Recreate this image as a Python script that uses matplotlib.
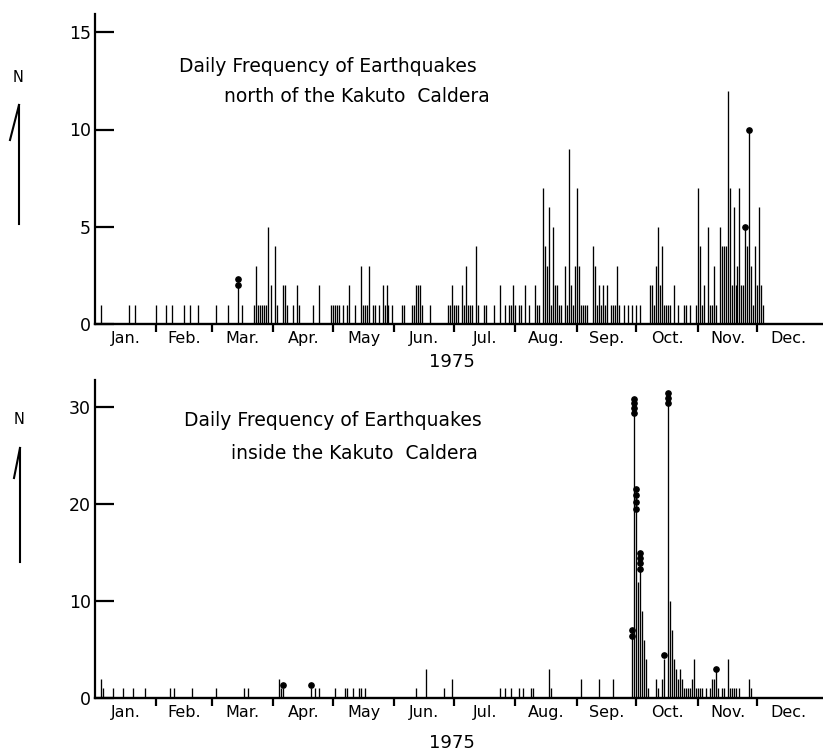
import numpy as np
import matplotlib.pyplot as plt
from matplotlib.lines import Line2D

# ==================================
# DATA  (day 0 = Jan 1, 1975)
# ==================================
MONTHS = ["Jan.", "Feb.", "Mar.", "Apr.", "May", "Jun.",
          "Jul.", "Aug.", "Sep.", "Oct.", "Nov.", "Dec."]
MONTH_DAYS = [31, 28, 31, 30, 31, 30, 31, 31, 30, 31, 30, 31]

north_days = [3, 17, 20, 31, 36, 39, 45, 48, 52, 61, 67, 72, 74, 80, 81, 82, 83, 84, 85, 86, 87, 89,
              91, 92, 95, 96, 97, 100, 102, 103, 110, 113, 119,
              120, 121, 122, 123, 125, 127, 128, 131, 134, 135, 136, 137, 138, 140, 141, 143, 145, 146,
              147, 148, 150,
              155, 156, 160, 161, 162, 163, 164, 165, 169, 178, 179, 180,
              181, 182, 183, 185, 186, 187, 188, 189, 190, 192, 193, 196, 197, 201, 204, 207, 209, 210, 211,
              212, 214, 215, 217, 219, 222, 223, 224, 226, 227, 228, 229, 230, 231, 232, 233, 234, 235,
              237, 238, 239, 240, 241, 242,
              243, 244, 245, 246, 247, 248, 251, 252, 253, 254, 255, 256, 257, 258, 260, 261, 262, 263,
              264, 267, 269, 271,
              273, 275, 280, 281, 282, 283, 284, 285, 286, 287, 288, 289, 290, 292, 294, 297, 298, 300, 303,
              304, 305, 306, 307, 309, 310, 311, 312, 313, 315, 316, 317, 318, 319, 320, 321, 322, 323,
              324, 325, 326, 327, 328, 329, 330, 331, 332, 333, 334, 335, 336, 337]
north_counts = [1, 1, 1, 1, 1, 1, 1, 1, 1, 1, 1, 2, 1, 1, 3, 1, 1, 1, 1, 1, 5, 2,
                4, 1, 2, 2, 1, 1, 2, 1, 1, 2, 1,
                1, 1, 1, 1, 1, 1, 2, 1, 3, 1, 1, 1, 3, 1, 1, 1, 2, 1,
                2, 1, 1,
                1, 1, 1, 1, 2, 2, 2, 1, 1, 1, 1, 2,
                1, 1, 1, 2, 1, 3, 1, 1, 1, 4, 1, 1, 1, 1, 2, 1, 1, 1, 2,
                1, 1, 1, 2, 1, 2, 1, 1, 7, 4, 3, 6, 1, 5, 2, 2, 1, 1,
                3, 1, 9, 2, 1, 3,
                7, 3, 1, 1, 1, 1, 4, 3, 1, 2, 1, 2, 1, 2, 1, 1, 1, 3,
                1, 1, 1, 1,
                1, 1, 2, 2, 1, 3, 5, 2, 4, 1, 1, 1, 1, 2, 1, 1, 1, 1, 1,
                7, 4, 1, 2, 5, 1, 1, 3, 1, 5, 4, 4, 4, 12, 7, 2, 6, 2,
                3, 7, 2, 2, 5, 4, 10, 3, 1, 4, 2, 6, 2, 1]
north_dot_days = [72, 72, 328, 330]
north_dot_vals = [2.0, 2.3, 5.0, 10.0]

inside_days = [3, 4, 9, 14, 19, 25, 38, 40, 49, 61, 75, 77, 93, 94, 95, 109, 111, 113,
               121, 126, 127, 130, 133, 134, 136, 162, 167, 176, 180,
               204, 207, 210, 214, 216, 220, 221, 229, 230, 245, 254, 261,
               271, 272, 273, 274, 275, 276, 277, 278, 279, 283, 284, 286, 287,
               289, 290, 291, 292, 293, 294, 295, 296, 297, 298, 299, 300, 301, 302, 303,
               304, 305, 306, 308, 310, 311, 312, 313, 314, 316, 317, 319, 320, 321, 322, 323,
               325, 330, 331]
inside_counts = [2, 1, 1, 1, 1, 1, 1, 1, 1, 1, 1, 1, 2, 1, 1, 1, 1, 1,
                 1, 1, 1, 1, 1, 1, 1, 1, 3, 1, 2,
                 1, 1, 1, 1, 1, 1, 1, 3, 1, 2, 2, 2,
                 7, 30, 21, 12, 15, 9, 6, 4, 1, 2, 1, 2, 4,
                 31, 10, 7, 4, 3, 2, 3, 2, 1, 1, 1, 1, 2, 4, 1,
                 1, 1, 1, 1, 1, 2, 2, 3, 1, 1, 1, 4, 1, 1, 1, 1,
                 1, 2, 1]
inside_dot_days = [95, 109, 271, 271, 272, 272, 272, 272, 273, 273, 273, 273,
                   275, 275, 275, 275, 287, 289, 289, 289, 313]
inside_dot_vals = [1.3, 1.3, 6.4, 7.0, 29.4, 29.9, 30.4, 30.8, 19.5, 20.2, 20.9, 21.5,
                   13.3, 13.9, 14.4, 15.0, 4.4, 30.4, 30.9, 31.4, 3.0]

# ==================================
# LAYOUT (pixels)
# ==================================
W, H = 823, 751
PX_PER_DAY = 1.983
FONT = "DejaVu Sans"


def fx(px):
    return px / W


def fy(py):
    return 1 - py / H


fig = plt.figure(figsize=(W / 100, H / 100), dpi=100)
fig.patch.set_facecolor("white")

month_edges = np.cumsum(MONTH_DAYS)[:-1]
month_mids = np.cumsum(MONTH_DAYS) - np.array(MONTH_DAYS) / 2.0
xmax = (W - 95) / PX_PER_DAY


def panel(top_px, base_px, px_per_unit, days, counts, dot_days, dot_vals, yticks):
    ax = fig.add_axes([fx(95), fy(base_px), (W - 95) / W, (base_px - top_px) / H])
    ax.vlines(days, 0, counts, color="black", linewidth=0.95, capstyle="butt")
    ax.plot(dot_days, dot_vals, "o", color="black", markersize=3.8, linestyle="none")
    ax.set_xlim(0, xmax)
    ax.set_ylim(0, (base_px - top_px) / px_per_unit)

    for s in ["top", "right"]:
        ax.spines[s].set_visible(False)
    ax.spines["left"].set_linewidth(1.6)
    ax.spines["bottom"].set_linewidth(1.7)

    ax.set_yticks(yticks)
    ax.set_yticklabels([str(v) for v in yticks], fontsize=12.5, family=FONT)
    ax.tick_params(axis="y", direction="in", length=14, width=1.6, pad=3)

    ax.set_xticks(month_mids)
    ax.set_xticklabels(MONTHS, fontsize=11.5, family=FONT)
    ax.set_xticks(month_edges, minor=True)
    ax.tick_params(axis="x", which="major", length=0, pad=5)
    ax.tick_params(axis="x", which="minor", direction="out", length=6, width=1.6)
    return ax


ax1 = panel(14, 324, 19.45, north_days, north_counts, north_dot_days, north_dot_vals, [0, 5, 10, 15])
ax2 = panel(380, 698, 9.7, inside_days, inside_counts, inside_dot_days, inside_dot_vals, [0, 10, 20, 30])

# titles
fig.text(fx(328), fy(66), "Daily Frequency of Earthquakes", fontsize=13.5, family=FONT,
         ha="center", va="center")
fig.text(fx(357), fy(97), "north of the Kakuto  Caldera", fontsize=13.5, family=FONT,
         ha="center", va="center")
fig.text(fx(333), fy(421), "Daily Frequency of Earthquakes", fontsize=13.5, family=FONT,
         ha="center", va="center")
fig.text(fx(354), fy(453), "inside the Kakuto  Caldera", fontsize=13.5, family=FONT,
         ha="center", va="center")

# year labels
fig.text(fx(452), fy(362), "1975", fontsize=13, family=FONT, ha="center", va="center")
fig.text(fx(452), fy(743), "1975", fontsize=13, family=FONT, ha="center", va="center")

# "N" with half-headed arrows
for n_y, y0, y1, bx, by in [(77, 224, 105, 10, 140), (420, 562, 448, 14, 478)]:
    xs = 19 if n_y < 300 else 20
    fig.text(fx(xs - 1), fy(n_y), "N", fontsize=10.5, family=FONT, ha="center", va="center")
    fig.add_artist(Line2D([fx(xs), fx(xs)], [fy(y0), fy(y1)], color="black", linewidth=1.5,
                          transform=fig.transFigure))
    fig.add_artist(Line2D([fx(xs), fx(bx)], [fy(y1), fy(by)], color="black", linewidth=1.5,
                          transform=fig.transFigure))

fig.savefig("out.png", dpi=100, facecolor="white")
